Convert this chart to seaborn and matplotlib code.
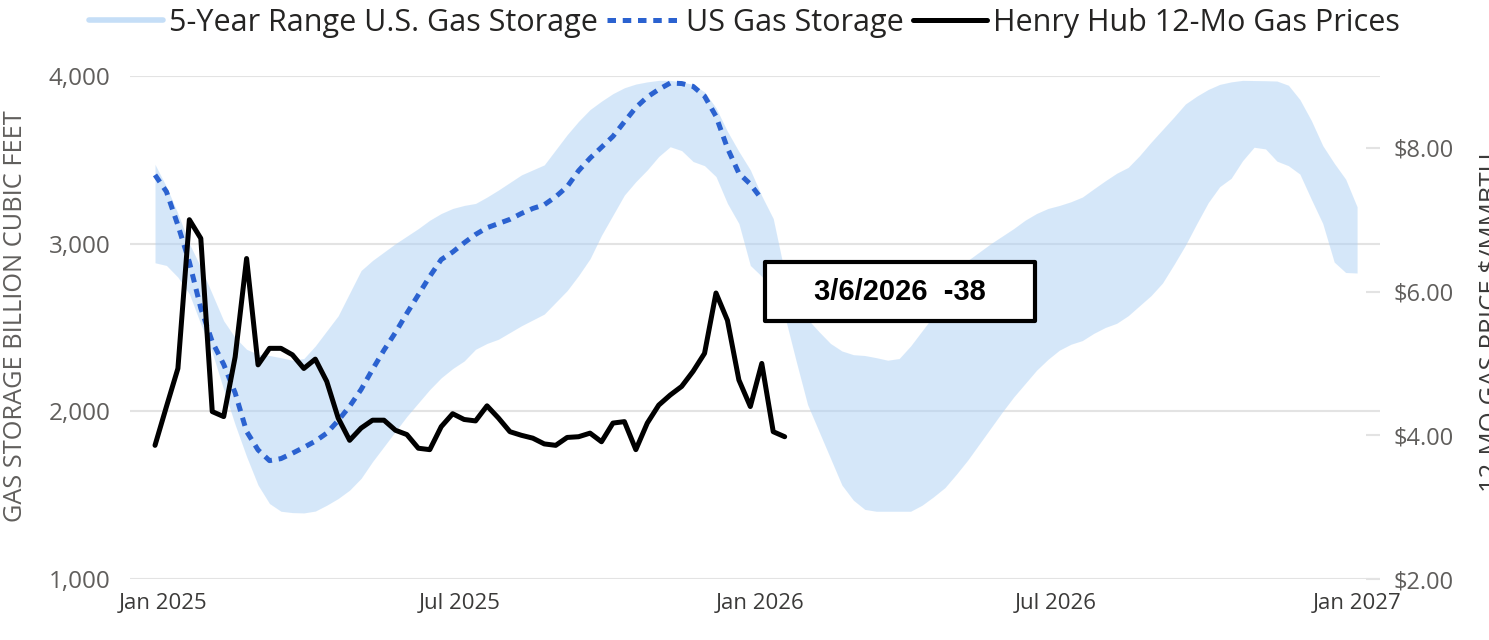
import numpy as np
import pandas as pd
import matplotlib
matplotlib.use("Agg")
import matplotlib.pyplot as plt
import seaborn as sns
from matplotlib.patches import Rectangle
from matplotlib.lines import Line2D
from matplotlib.ticker import FuncFormatter, FixedLocator

# ---------------- data (weekly, starting 2024-12-27) ----------------
range_upper = [
    3473, 3340, 3180, 3000, 2860, 2700, 2540, 2440, 2370, 2340,
    2333, 2320, 2305, 2315, 2390, 2480, 2570, 2705, 2840, 2900,
    2950, 3000, 3045, 3090, 3140, 3180, 3210, 3228, 3240, 3278,
    3320, 3365, 3410, 3440, 3470, 3560, 3650, 3730, 3800, 3850,
    3895, 3930, 3952, 3965, 3974, 3974, 3965, 3950, 3905, 3810,
    3670, 3550,
    3440, 3285, 3150, 2828, 2630, 2550, 2475, 2405, 2360, 2338,
    2333, 2320, 2305, 2315, 2390, 2480, 2570, 2705, 2840, 2900,
    2950, 3000, 3045, 3090, 3140, 3180, 3210, 3228, 3250, 3278,
    3327, 3375, 3420, 3455, 3525, 3605, 3680, 3755, 3833, 3880,
    3920, 3950, 3965, 3974, 3973, 3972, 3970, 3945, 3860, 3735,
    3585, 3480, 3385, 3220,
]
range_lower = [
    2886, 2870, 2800, 2700, 2520, 2350, 2130, 1920, 1730, 1560,
    1450, 1404, 1396, 1394, 1405, 1440, 1480, 1530, 1600, 1700,
    1790, 1880, 1970, 2050, 2130, 2200, 2255, 2300, 2370, 2405,
    2430, 2470, 2510, 2545, 2580, 2650, 2720, 2810, 2910, 3050,
    3170, 3290, 3370, 3440, 3520, 3578, 3555, 3490, 3465, 3400,
    3240, 3120,
    2870, 2805, 2725, 2570, 2300, 2040, 1880, 1720, 1560, 1470,
    1415, 1404, 1404, 1404, 1404, 1440, 1490, 1545, 1625, 1710,
    1805, 1900, 1995, 2085, 2165, 2245, 2310, 2365, 2400, 2422,
    2465, 2500, 2525, 2570, 2630, 2690, 2765, 2875, 2990, 3120,
    3245, 3340, 3390, 3495, 3575, 3565, 3492, 3465, 3415, 3265,
    3120, 2890, 2828, 2825,
]
storage = [
    3410, 3310, 3110, 2890, 2615, 2415, 2280, 2110, 1880, 1770,
    1706, 1718, 1750, 1785, 1822, 1870, 1945, 2030, 2130, 2250,
    2365, 2470, 2585, 2695, 2805, 2905, 2950, 3005, 3055, 3095,
    3120, 3145, 3180, 3210, 3232, 3280, 3340, 3435, 3510, 3575,
    3640, 3727, 3812, 3875, 3920, 3958, 3955, 3938, 3880, 3760,
    3570, 3420, 3355, 3265,
]
price = [
    3.86, 4.40, 4.93, 7.00, 6.74, 4.33, 4.26, 5.09, 6.46, 4.98,
    5.21, 5.21, 5.12, 4.93, 5.06, 4.75, 4.24, 3.93, 4.10, 4.21,
    4.21, 4.07, 4.01, 3.82, 3.80, 4.12, 4.30, 4.22, 4.20, 4.41,
    4.24, 4.05, 4.00, 3.96, 3.88, 3.86, 3.97, 3.98, 4.03, 3.91,
    4.17, 4.19, 3.80, 4.17, 4.42, 4.56, 4.68, 4.89, 5.14, 5.98,
    5.60, 4.77, 4.40, 5.00, 4.05, 3.98,
]
x_tick_dates = ["2025-01-01", "2025-07-01", "2026-01-01", "2026-07-01", "2027-01-01"]
x_tick_labels = ["Jan 2025", "Jul 2025", "Jan 2026", "Jul 2026", "Jan 2027"]
storage_ticks = [1000, 2000, 3000, 4000]
price_ticks = [2, 4, 6, 8]
series_names = ["5-Year Range U.S. Gas Storage", "US Gas Storage", "Henry Hub 12-Mo Gas Prices"]
annotation_text = "3/6/2026  -38"

weeks = pd.date_range("2024-12-27", periods=len(range_upper), freq="7D")
df_range = pd.DataFrame({"date": weeks, "lo": range_lower, "hi": range_upper})
df_storage = pd.DataFrame({"date": weeks[:len(storage)], "storage": storage})
df_price = pd.DataFrame({"date": weeks[:len(price)], "price": price})

# ---------------- style ----------------
sns.set_theme(style="white")
plt.rcParams["font.family"] = ["Open Sans", "DejaVu Sans"]
TICK_C = "#605E5C"
BAND_C = "#ADD1F5"
BLUE = "#2B62D0"

W, H = 1489, 640
fig = plt.figure(figsize=(W / 100, H / 100), dpi=100)
ax = fig.add_axes([130 / W, 1 - 579 / H, (1380 - 130) / W, (579 - 76) / H])

ax.fill_between(df_range["date"], df_range["lo"], df_range["hi"],
                color=BAND_C, alpha=0.5, lw=0, zorder=2)
sns.lineplot(data=df_storage, x="date", y="storage", ax=ax, color=BLUE,
             lw=3.6, linestyle=(0, (1.7, 1.35)), dash_capstyle="butt", zorder=3)

ax.set_ylim(1000, 4000)
ax.set_xlim(pd.Timestamp("2024-12-11 17:00"), pd.Timestamp("2027-01-15"))
ax.yaxis.set_major_locator(FixedLocator(storage_ticks))
ax.yaxis.set_major_formatter(FuncFormatter(lambda v, p: f"{v:,.0f}"))
ax.xaxis.set_major_locator(FixedLocator([matplotlib.dates.date2num(pd.Timestamp(d)) for d in x_tick_dates]))
ax.set_xticklabels(x_tick_labels)
ax.grid(axis="y", color="#E3E3E3", lw=1.5, zorder=0)
ax.grid(axis="x", visible=False)
ax.set_axisbelow(True)
for s in ax.spines.values():
    s.set_visible(False)
ax.tick_params(axis="y", length=0, pad=14, labelsize=17.5, labelcolor=TICK_C)
ax.tick_params(axis="x", length=0, pad=10, labelsize=16, labelcolor="#3b3a39")
ax.set_xlabel("")
ax.set_ylabel("")

ax2 = ax.twinx()
sns.lineplot(data=df_price, x="date", y="price", ax=ax2, color="black", lw=3.6, zorder=4)
ax2.set_ylim(2, 9)
ax2.yaxis.set_major_locator(FixedLocator(price_ticks))
ax2.yaxis.set_major_formatter(FuncFormatter(lambda v, p: f"${v:.2f}"))
ax2.tick_params(axis="y", direction="in", length=10, width=1.5, color="#E3E3E3",
                pad=10, labelsize=17, labelcolor=TICK_C)
ax2.grid(False)
for s in ax2.spines.values():
    s.set_visible(False)
ax2.set_xlabel("")
ax2.set_ylabel("")

fig.text(16 / W, 1 - 316 / H, "GAS STORAGE BILLION CUBIC FEET", rotation=90,
         ha="center", va="center", fontsize=18.3, color=TICK_C)
fig.text(1492 / W, 1 - 322 / H, "12-MO GAS PRICE $/MMBTU", rotation=90,
         ha="center", va="center", fontsize=18.5, color="#3b3a39")

# legend
handles = [
    Line2D([], [], color="#C5DEF7", lw=4),
    Line2D([], [], color=BLUE, lw=3.6, linestyle=(0, (1.7, 1.35)), dash_capstyle="butt"),
    Line2D([], [], color="black", lw=3.6),
]
fig.legend(handles, series_names, loc="center", bbox_to_anchor=(0.5, 1 - 23 / H),
           ncol=3, frameon=False, fontsize=22, handlelength=2.4, handletextpad=0.2,
           columnspacing=0.3, labelcolor="#252423")

# annotation box
bx0, bx1, by0, by1 = 765, 1035, 262, 321
fig.patches.append(Rectangle((bx0 / W, 1 - by1 / H), (bx1 - bx0) / W, (by1 - by0) / H,
                             transform=fig.transFigure, fc="white", ec="black",
                             lw=3.0, joinstyle="round", zorder=10))
fig.text((bx0 + bx1) / 2 / W, 1 - (by0 + by1) / 2 / H, annotation_text,
         ha="center", va="center", fontsize=21, fontweight="bold",
         family=["Liberation Sans", "DejaVu Sans"], color="black", zorder=11)

fig.savefig("out.png", dpi=100)
